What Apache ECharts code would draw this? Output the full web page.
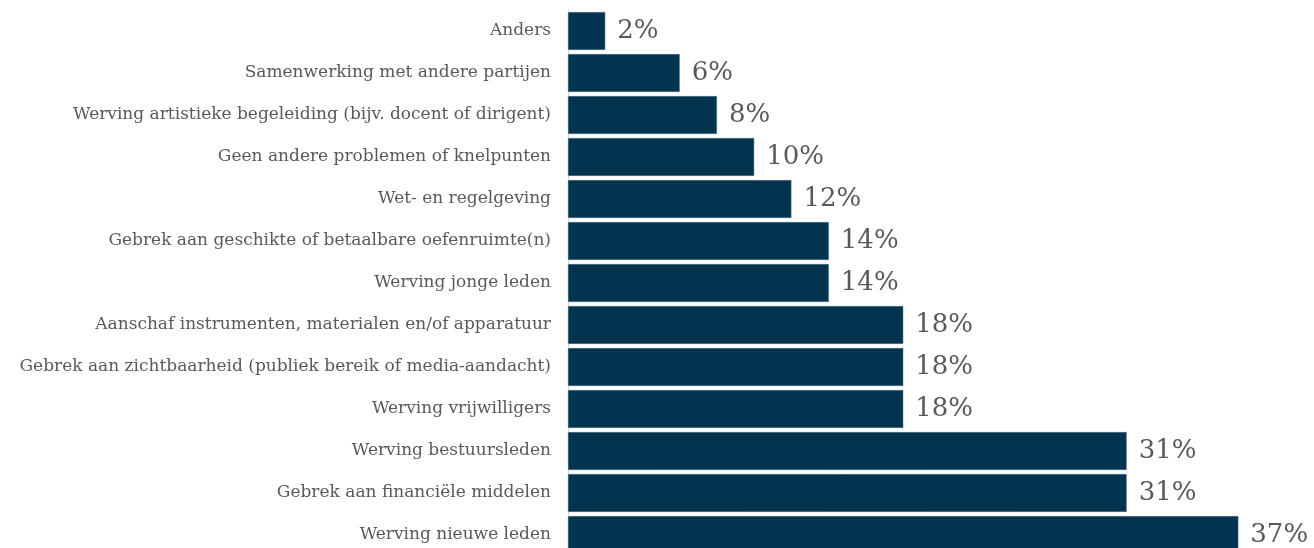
<!DOCTYPE html>
<html>
<head>
<meta charset="utf-8">
<script src="https://cdn.jsdelivr.net/npm/echarts@6/dist/echarts.min.js"></script>
<style>
html,body{margin:0;padding:0;background:#fff;}
#chart{width:1314px;height:548px;}
</style>
</head>
<body>
<div id="chart"></div>
<script>
const categories = [
  "Anders",
  "Samenwerking met andere partijen",
  "Werving artistieke begeleiding (bijv. docent of dirigent)",
  "Geen andere problemen of knelpunten",
  "Wet- en regelgeving",
  "Gebrek aan geschikte of betaalbare oefenruimte(n)",
  "Werving jonge leden",
  "Aanschaf instrumenten, materialen en/of apparatuur",
  "Gebrek aan zichtbaarheid (publiek bereik of media-aandacht)",
  "Werving vrijwilligers",
  "Werving bestuursleden",
  "Gebrek aan financiële middelen",
  "Werving nieuwe leden"
];
const values = [2.04, 6.12, 8.16, 10.2, 12.24, 14.29, 14.29, 18.37, 18.37, 18.37, 30.61, 30.61, 36.73];

const chart = echarts.init(document.getElementById('chart'));
chart.setOption({
  animation: false,
  grid: { left: 568, width: 730, top: 10, height: 546, containLabel: false, outerBoundsMode: 'none' },
  xAxis: {
    type: 'value', min: 0, max: 40, show: false,
    splitLine: { show: false }
  },
  yAxis: {
    type: 'category', data: categories, inverse: true,
    axisLine: { show: true, lineStyle: { color: '#d9d9d9', width: 1 } },
    axisTick: { show: false },
    axisLabel: {
      color: '#595959', fontFamily: 'DejaVu Serif', fontSize: 17, margin: 17
    }
  },
  series: [{
    type: 'bar',
    data: values,
    barCategoryGap: '10%',
    itemStyle: { color: '#02344F', borderColor: '#4a6e85', borderWidth: 0.5 },
    label: {
      show: true, position: 'right', distance: 12,
      color: '#595959', fontFamily: 'DejaVu Serif', fontSize: 26,
      formatter: p => Math.round(p.value) + '%'
    }
  }]
});
</script>
</body>
</html>
